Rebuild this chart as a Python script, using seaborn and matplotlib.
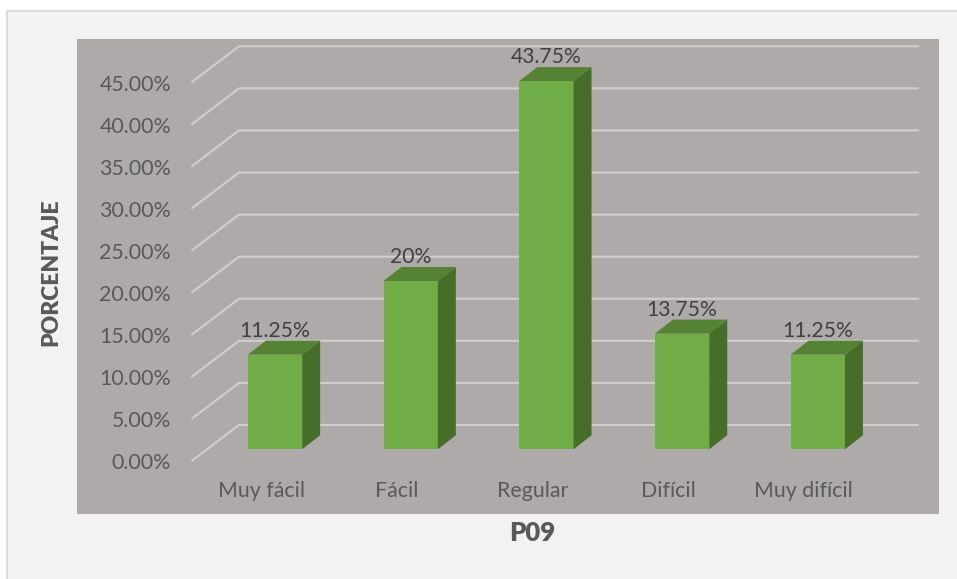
import matplotlib
matplotlib.use("Agg")
import matplotlib.pyplot as plt
from matplotlib.patches import Polygon, Rectangle
from matplotlib.transforms import Affine2D
import seaborn as sns

categories = ["Muy fácil", "Fácil", "Regular", "Difícil", "Muy difícil"]
values = [11.25, 20, 43.75, 13.75, 11.25]
bar_labels = ["11.25%", "20%", "43.75%", "13.75%", "11.25%"]
y_ticks = [0, 5, 10, 15, 20, 25, 30, 35, 40, 45]
y_tick_labels = ["0.00%", "5.00%", "10.00%", "15.00%", "20.00%",
                 "25.00%", "30.00%", "35.00%", "40.00%", "45.00%"]

W, H = 957, 579
# pixels per data unit, and where category 0 / value 0 sit in the picture
PX_X, PX_Y = 135.7, 8.416
X0, Y0 = 275.0, 449.3
LEFT, RIGHT, TOP, BOTTOM = 77, 939, 39, 513.5


def dx(px):
    return px / PX_X


def dy(px):
    return px / PX_Y


sns.set_theme(style="white")
plt.rcParams["font.family"] = ["Lato", "DejaVu Sans"]

fig = plt.figure(figsize=(W / 100, H / 100), dpi=100, facecolor="white")
fig.add_artist(Rectangle((7.5 / W, -0.05), 1, 1.05 - 10.5 / H, transform=fig.transFigure,
                         facecolor="#f2f2f2", edgecolor="#d9d9d9", linewidth=1.3, zorder=-1))

ax = fig.add_axes([LEFT / W, 1 - BOTTOM / H, (RIGHT - LEFT) / W, (BOTTOM - TOP) / H])
ax.set_facecolor("#aeaaaa")
sns.barplot(x=categories, y=values, color="#70ad47", saturation=1, width=0.4, ax=ax, zorder=3,
            linewidth=0)
bars = ax.containers[0]

ax.set_xlim((LEFT - X0) / PX_X, (RIGHT - X0) / PX_X)
ax.set_ylim((Y0 - BOTTOM) / PX_Y, (Y0 - TOP) / PX_Y)
sns.despine(ax=ax, left=True, bottom=True, top=True, right=True)

# back wall and side wall gridlines
for v in y_ticks:
    ax.plot([dx(192 - X0), dx(239 - X0), dx(918 - X0)],
            [v + dy(Y0 - 460.7), v + dy(Y0 - 425), v + dy(Y0 - 425)],
            color="#d0cece", lw=1.5, zorder=1, solid_joinstyle="round")

# 3d look of the columns
depth_x, depth_y = dx(18), dy(14)
for bar in bars:
    x0, x1 = bar.get_x(), bar.get_x() + bar.get_width()
    h = bar.get_height()
    ax.add_patch(Polygon([(x1, 0), (x1 + depth_x, depth_y), (x1 + depth_x, h + depth_y), (x1, h)],
                         facecolor="#476e28", edgecolor="none", zorder=3))
    ax.add_patch(Polygon([(x0, h), (x0 + depth_x, h + depth_y), (x1 + depth_x, h + depth_y), (x1, h)],
                         facecolor="#568235", edgecolor="none", zorder=3))

ax.bar_label(bars, labels=bar_labels, padding=10, fontsize=15.2, color="#404040", zorder=4)

ax.set_yticks(y_ticks, y_tick_labels)
ax.tick_params(axis="both", length=0, pad=0, labelsize=15.4, labelcolor="#595959")
# tick labels sit inside the grey panel, as in a 3d office chart
for lab in ax.get_yticklabels():
    lab.set_transform(lab.get_transform() + Affine2D().translate(171 - LEFT, -12))
for lab in ax.get_xticklabels():
    lab.set_va("baseline")
    lab.set_transform(lab.get_transform() + Affine2D().translate(-14, 16.5))

ax.set_xlabel("P09", fontsize=18.5, fontweight="heavy", color="#595959", labelpad=0)
ax.set_ylabel("PORCENTAJE", fontsize=16.5, fontweight="heavy", color="#595959")
ax.xaxis.set_label_coords((532 - LEFT) / (RIGHT - LEFT), -(533 - BOTTOM) / (BOTTOM - TOP), )
ax.xaxis.label.set_va("center")
ax.yaxis.set_label_coords((51 - LEFT) / (RIGHT - LEFT), (BOTTOM - 272) / (BOTTOM - TOP))
ax.yaxis.label.set_va("center")

fig.savefig("out.png", dpi=100, facecolor=fig.get_facecolor())
